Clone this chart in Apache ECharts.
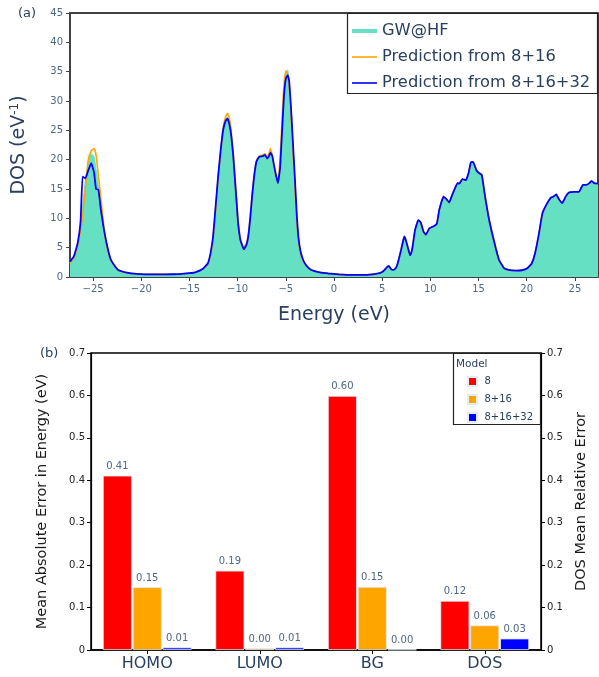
<!DOCTYPE html>
<html>
<head>
<meta charset="utf-8">
<script src="https://cdn.jsdelivr.net/npm/echarts@6/dist/echarts.min.js"></script>
<style>html,body{margin:0;padding:0;background:#fff}#c{width:599px;height:677px}</style>
</head>
<body>
<div id="c"></div>
<script>
// ---- Panel (a): density of states ----
const energy = [-27.4,-27.0,-26.6,-26.3,-26.1,-25.8,-25.5,-25.2,-24.9,-24.7,-24.45,-24.2,-23.9,-23.6,-23.2,-22.8,-22.4,-21.5,-20.5,-19,-17.5,-16,-15,-14.4,-13.6,-13.1,-12.8,-12.55,-12.3,-12.03,-11.75,-11.5,-11.25,-11.05,-10.85,-10.65,-10.45,-10.3,-10.1,-9.95,-9.75,-9.6,-9.35,-9.1,-8.9,-8.7,-8.5,-8.3,-8.05,-7.75,-7.4,-7.15,-6.95,-6.75,-6.6,-6.4,-6.2,-6.0,-5.82,-5.6,-5.4,-5.2,-5.0,-4.8,-4.65,-4.45,-4.25,-4.05,-3.85,-3.7,-3.5,-3.2,-2.8,-2.35,-1.5,-0.6,0.5,1.8,3.0,4.0,4.6,5.0,5.25,5.45,5.68,5.9,6.1,6.35,6.55,6.75,6.96,7.15,7.3,7.45,7.64,7.89,8.05,8.16,8.41,8.75,9.0,9.3,9.54,9.89,10.4,10.68,10.92,11.15,11.37,11.65,11.96,12.2,12.47,12.82,13.0,13.33,13.68,13.96,14.2,14.44,14.78,15.06,15.34,15.68,16.03,16.37,16.79,17.13,17.65,18.1,18.9,19.5,20.07,20.52,20.86,21.27,21.62,22.03,22.49,22.76,23.07,23.3,23.69,24.04,24.38,24.9,25.42,25.83,26.18,26.5,26.73,27.0,27.4];
const dosGW = [2.3,3.2,5.5,9.0,12.0,16.5,19.5,21.0,20.5,18.5,15.5,12.0,8.5,5.5,3.0,1.9,1.2,0.7,0.55,0.45,0.45,0.5,0.65,0.8,1.4,2.3,4.0,7.0,11.5,17.0,21.5,25.0,26.7,27.3,26.5,24.0,20.5,17.0,12.5,9.2,6.5,5.6,4.8,5.5,7.0,10.0,13.6,17.0,19.6,20.4,20.7,20.8,20.4,20.8,21.5,20.6,18.5,17.0,16.5,19.0,25.0,31.0,35.0,35.3,33.0,28.5,22.0,16.0,10.0,7.0,4.5,2.8,1.8,1.2,0.8,0.6,0.45,0.35,0.35,0.45,0.6,0.85,1.2,1.6,1.9,1.4,1.2,1.4,2.0,3.2,4.6,6.0,6.9,6.3,5.2,3.7,4.3,5.2,8.0,9.7,9.3,7.7,7.2,8.3,8.7,9.1,11.4,12.8,13.7,13.3,12.7,13.7,14.8,16.0,16.0,16.7,16.5,17.7,19.5,19.6,18.2,17.7,17.4,13.7,10.3,7.7,4.9,2.9,1.5,1.2,1.1,1.15,1.5,2.3,4.0,7.4,10.8,12.3,13.5,13.7,14.1,13.4,12.6,13.7,14.4,14.5,14.5,15.7,15.7,16.0,16.4,16.0,15.9];
const dosP16 = [2.4,3.3,5.4,8.0,10.3,15.4,20.0,21.5,21.9,20.8,17.3,13.5,8.8,5.5,3.0,1.9,1.2,0.7,0.55,0.45,0.45,0.5,0.65,0.8,1.4,2.2,3.8,6.6,11.0,16.8,21.5,25.5,27.3,27.9,27.0,24.5,21.0,17.5,13.0,9.5,6.8,5.9,5.1,5.7,7.2,10.3,14.0,17.3,19.8,20.6,20.8,21.0,20.5,21.0,21.9,20.7,18.7,17.0,16.6,20.0,26.5,32.5,35.1,34.5,32.5,27.5,21.0,15.0,9.2,6.5,4.2,2.7,1.8,1.2,0.8,0.6,0.45,0.35,0.35,0.45,0.6,0.85,1.2,1.6,1.9,1.4,1.2,1.4,2.0,3.2,4.6,6.0,6.9,6.3,5.2,3.7,4.3,5.2,8.0,9.7,9.3,7.7,7.2,8.3,8.7,9.1,11.4,12.8,13.7,13.3,12.7,13.7,14.8,16.0,16.0,16.7,16.5,17.7,19.5,19.6,18.2,17.8,17.5,13.8,10.5,7.9,5.0,2.9,1.5,1.2,1.1,1.15,1.5,2.3,4.0,7.2,10.6,12.2,13.5,13.7,14.1,13.4,12.6,13.7,14.4,14.5,14.5,15.7,15.7,16.0,16.4,16.0,15.9];
const dosP32 = [2.6,3.5,5.8,9.5,17.1,16.8,18.2,19.4,17.8,15.0,14.9,11.5,8.3,5.7,3.1,2.0,1.2,0.75,0.55,0.45,0.45,0.5,0.65,0.8,1.4,2.3,4.2,6.9,11.8,17.1,21.8,25.1,26.6,27.0,26.0,23.9,20.5,17.1,12.5,9.1,6.6,5.7,4.7,5.4,6.9,9.9,13.7,17.0,19.7,20.5,20.6,20.8,20.2,20.6,21.2,20.6,18.8,17.2,16.0,18.5,24.5,30.7,33.8,34.4,33.4,28.5,22.5,16.6,10.2,6.9,4.6,2.9,1.8,1.2,0.8,0.6,0.45,0.35,0.35,0.45,0.6,0.85,1.2,1.6,1.9,1.4,1.2,1.4,2.0,3.2,4.6,6.0,6.9,6.3,5.2,3.7,4.3,5.2,8.0,9.7,9.3,7.7,7.2,8.3,8.7,9.1,11.4,12.8,13.7,13.3,12.7,13.7,14.8,16.0,15.9,16.7,16.5,17.7,19.5,19.6,18.2,17.7,17.4,13.7,10.3,7.7,4.9,2.9,1.5,1.2,1.1,1.15,1.5,2.3,4.0,7.4,10.8,12.3,13.5,13.7,14.1,13.4,12.6,13.7,14.4,14.5,14.5,15.7,15.7,16.0,16.4,16.0,15.9];
const dosSeriesNames = ['GW@HF', 'Prediction from 8+16', 'Prediction from 8+16+32'];

// ---- Panel (b): errors ----
const metrics = ['HOMO', 'LUMO', 'BG', 'DOS'];
const modelNames = ['8', '8+16', '8+16+32'];
const err8 = [0.411, 0.187, 0.599, 0.116];
const err816 = [0.148, 0.004, 0.149, 0.058];
const err81632 = [0.006, 0.006, 0.001, 0.027];

const FONT = 'DejaVu Sans';
const TITLE_C = '#2a3f5f';
const TICK_C = '#506784';
const pair = arr => energy.map((e, i) => [e, arr[i]]);
const minus = v => (v < 0 ? '\u2212' + Math.abs(v) : String(v));

const chart = echarts.init(document.getElementById('c'), null, {renderer: 'canvas'});
chart.setOption({
  animation: false,
  backgroundColor: '#fff',
  textStyle: {fontFamily: FONT},
  grid: [
    {left: 70, right: 1, top: 13, bottom: 400, show: true, borderColor: '#000', borderWidth: 1.5, backgroundColor: 'transparent'},
    {left: 91, right: 58, top: 353, bottom: 27, show: true, borderColor: '#000', borderWidth: 1.5, backgroundColor: 'transparent'}
  ],
  legend: [
    {
      orient: 'vertical', left: 352, top: 23, padding: 0,
      itemWidth: 25, itemHeight: 14, itemGap: 10, selectedMode: false,
      textStyle: {fontFamily: FONT, fontSize: 16.3, color: TITLE_C},
      data: [
        {name: dosSeriesNames[0], icon: 'path://M0,0H25V4H0Z', itemStyle: {color: '#66e0c3'}},
        {name: dosSeriesNames[1], icon: 'path://M0,0H25V1.6H0Z', itemStyle: {color: '#ffa500'}},
        {name: dosSeriesNames[2], icon: 'path://M0,0H25V1.6H0Z', itemStyle: {color: '#0000ff'}}
      ]
    },
    {
      orient: 'vertical', left: 467, top: 376, padding: 0,
      itemWidth: 14, itemHeight: 9, itemGap: 7, selectedMode: false,
      textStyle: {fontFamily: FONT, fontSize: 10, color: TITLE_C},
      data: modelNames.map(n => ({name: n, icon: 'path://M0,0H1V1H0Z'}))
    }
  ],
  graphic: [
    {type: 'rect', shape: {x: 347.5, y: 13.5, width: 250, height: 80}, style: {fill: '#fff', stroke: '#222', lineWidth: 1.2}, z: 0},
    {type: 'rect', shape: {x: 453.5, y: 353.5, width: 87, height: 71}, style: {fill: '#fff', stroke: '#222', lineWidth: 1.2}, z: 0},
    {type: 'text', left: 456, top: 359, style: {text: 'Model', font: '10.5px "DejaVu Sans"', fill: TITLE_C}},
    {type: 'text', left: 18, top: 7, style: {text: '(a)', font: '13px "DejaVu Sans"', fill: TITLE_C}},
    {type: 'text', left: 40, top: 347, style: {text: '(b)', font: '13px "DejaVu Sans"', fill: TITLE_C}}
  ],
  xAxis: [
    {
      type: 'value', gridIndex: 0, min: -27.4, max: 27.4, splitNumber: 11,
      name: 'Energy (eV)', nameLocation: 'middle', nameGap: 29,
      nameTextStyle: {fontFamily: FONT, fontSize: 19, color: TITLE_C},
      axisLine: {show: true, onZero: false, lineStyle: {color: '#444', width: 1.5}},
      axisTick: {show: true, length: 4, lineStyle: {color: '#444'}},
      axisLabel: {fontFamily: FONT, fontSize: 10, color: TICK_C, margin: 7, showMinLabel: false, showMaxLabel: false, formatter: minus},
      splitLine: {show: false}
    },
    {
      type: 'category', gridIndex: 1, data: metrics,
      axisLine: {show: true, onZero: false, lineStyle: {color: '#000', width: 1.5}},
      axisTick: {show: true, alignWithLabel: true, length: 4, lineStyle: {color: '#000'}},
      axisLabel: {fontFamily: FONT, fontSize: 16, color: TITLE_C, margin: 6}
    }
  ],
  yAxis: [
    {
      type: 'value', gridIndex: 0, min: 0, max: 45, interval: 5,
      name: 'DOS (eV{s|-1})', nameLocation: 'middle', nameGap: 41, nameRotate: 90,
      nameTextStyle: {fontFamily: FONT, fontSize: 19, color: TITLE_C, rich: {s: {fontFamily: FONT, fontSize: 12, color: TITLE_C, verticalAlign: 'top', padding: [0, 0, 8, 0]}}},
      axisLine: {show: true, onZero: false, lineStyle: {color: '#444', width: 1.5}},
      axisTick: {show: true, length: 4, lineStyle: {color: '#444'}},
      axisLabel: {fontFamily: FONT, fontSize: 10, color: TICK_C, margin: 7},
      splitLine: {show: false}
    },
    {
      type: 'value', gridIndex: 1, min: 0, max: 0.7, interval: 0.1,
      name: 'Mean Absolute Error in Energy (eV)', nameLocation: 'middle', nameGap: 41, nameRotate: 90,
      nameTextStyle: {fontFamily: FONT, fontSize: 14.5, color: '#1a1a1a'},
      axisLine: {show: true, onZero: false, lineStyle: {color: '#000', width: 1.2}},
      axisTick: {show: true, length: 4, lineStyle: {color: '#000'}},
      axisLabel: {fontFamily: FONT, fontSize: 10, color: '#222', margin: 6},
      splitLine: {show: false}
    },
    {
      type: 'value', gridIndex: 1, position: 'right', min: 0, max: 0.7, interval: 0.1,
      name: 'DOS Mean Relative Error', nameLocation: 'middle', nameGap: 32, nameRotate: 90,
      nameTextStyle: {fontFamily: FONT, fontSize: 14.5, color: '#1a1a1a'},
      axisLine: {show: true, onZero: false, lineStyle: {color: '#000', width: 1.2}},
      axisTick: {show: true, length: 4, lineStyle: {color: '#000'}},
      axisLabel: {fontFamily: FONT, fontSize: 10, color: '#222', margin: 6},
      splitLine: {show: false}
    }
  ],
  series: [
    {
      name: dosSeriesNames[0], type: 'line', xAxisIndex: 0, yAxisIndex: 0, data: pair(dosGW),
      showSymbol: false, symbol: 'none', smooth: 0.2, color: '#66e0c3',
      lineStyle: {width: 0.8, color: '#66e0c3'}, areaStyle: {color: '#66e0c3', opacity: 1}, z: 2
    },
    {
      name: dosSeriesNames[1], type: 'line', xAxisIndex: 0, yAxisIndex: 0, data: pair(dosP16),
      showSymbol: false, symbol: 'none', smooth: 0.15, color: '#ffa500',
      lineStyle: {width: 1.6, color: '#ffa500'}, z: 3
    },
    {
      name: dosSeriesNames[2], type: 'line', xAxisIndex: 0, yAxisIndex: 0, data: pair(dosP32),
      showSymbol: false, symbol: 'none', smooth: 0.1, color: '#0000ff',
      lineStyle: {width: 1.8, color: '#0000ff'}, z: 4
    },
    ...[[modelNames[0], err8, '#ff0000'], [modelNames[1], err816, '#ffa500'], [modelNames[2], err81632, '#0000ff']].map(([n, d, c]) => ({
      name: n, type: 'bar', xAxisIndex: 1, yAxisIndex: 1, data: d, color: c,
      barWidth: 29, barGap: '3%',
      itemStyle: {color: c, borderColor: '#e5ecf6', borderWidth: 0.8},
      label: {show: true, position: 'top', distance: 4, fontFamily: FONT, fontSize: 10, color: TICK_C, formatter: p => p.value.toFixed(2)}
    }))
  ]
});
</script>
</body>
</html>
